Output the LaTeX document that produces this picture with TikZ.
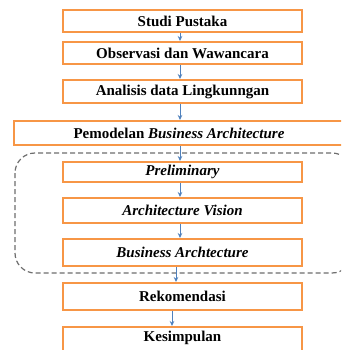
\documentclass[tikz,border=0pt]{standalone}
\usepackage{fontspec}
\setmainfont{Liberation Serif}
\usetikzlibrary{arrows.meta}
\definecolor{boxorange}{HTML}{F79646}
\definecolor{arrowblue}{HTML}{4F81BD}
\definecolor{dashgray}{HTML}{6E6E6E}
\begin{document}
\begin{tikzpicture}[x=1pt,y=-1pt,
  stepbox/.style={draw=boxorange, line width=2pt, fill=white, inner sep=0pt,
    minimum width=239pt, font=\fontsize{15}{18}\selectfont\bfseries, align=center},
  flow/.style={draw=arrowblue, line width=0.8pt, -{Stealth[length=5pt,width=4.5pt]}}]
\useasboundingbox (0,0) rectangle (341,350);
\clip (0,0) rectangle (341,350);
\fill[white] (0,0) rectangle (341,350);
% dashed group
\draw[dashgray, line width=1.2pt, dash pattern=on 5pt off 3pt, rounded corners=20pt]
  (15,153) rectangle (352,273);
\node[stepbox, minimum height=22pt] (n1) at (182.5,21) {Studi Pustaka};
\node[stepbox, minimum height=22pt] (n2) at (182.5,53) {Observasi dan Wawancara};
\node[stepbox, minimum height=23pt] (n3) at (182.5,91.5) {Analisis data Lingkunngan};
\node[stepbox, minimum height=24pt, minimum width=330pt] (n4) at (179,133) {Pemodelan \textit{Business Architecture}};
\node[stepbox, minimum height=20pt] (n5) at (182.5,172) {\textit{Preliminary}};
\node[stepbox, minimum height=25pt] (n6) at (182.5,210.5) {\textit{Architecture Vision}};
\node[stepbox, minimum height=27pt] (n7) at (182.5,252.5) {\textit{Business Archtecture}};
\node[stepbox, minimum height=27pt] (n8) at (182.5,296.5) {Rekomendasi};
\node[stepbox, minimum height=46pt] (n9) at (182.5,350) {};
\node[font=\fontsize{15}{18}\selectfont\bfseries] (t9) at (182.5,338) {Kesimpulan};
\draw[flow] (n1.south -| 180,0) -- (n2.north -| 180,0);
\draw[flow] (n2.south -| 180,0) -- (n3.north -| 180,0);
\draw[flow] (n3.south -| 180,0) -- (n4.north -| 180,0);
\draw[flow] (n4.south -| 180,0) -- (n5.north -| 180,0);
\draw[flow] (n5.south -| 180,0) -- (n6.north -| 180,0);
\draw[flow] (n6.south -| 180,0) -- (n7.north -| 180,0);
\draw[flow] (n7.south -| 176,0) -- (n8.north -| 176,0);
\draw[flow] (n8.south -| 172,0) -- (n9.north -| 172,0);
\end{tikzpicture}
\end{document}
